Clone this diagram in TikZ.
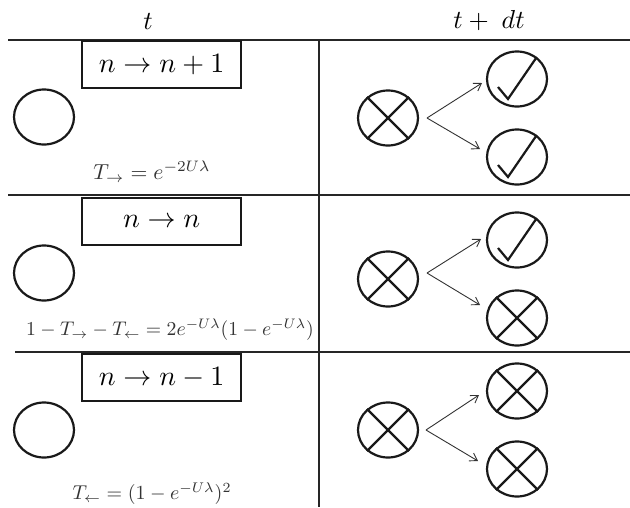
\documentclass[tikz,border=0pt]{standalone}
\usepackage{amsmath}
\usetikzlibrary{shapes.geometric,arrows.meta,calc}
\begin{document}
\begin{tikzpicture}[x=1pt,y=-1pt,
  rule/.style={draw=black!85,line width=2pt},
  labbox/.style={draw=black!90,line width=2.2pt,minimum width=159pt,minimum height=47pt,inner sep=0pt,anchor=north west},
  boxtext/.style={scale=2.8},
  headtext/.style={scale=2.6},
  formula/.style={text=black!80},
  stnode/.style={ellipse,draw=black!90,line width=2.2pt,minimum width=60pt,minimum height=55pt,inner sep=0pt},
  sign/.style={draw=black!90,line width=2.2pt},
  fork/.style={draw=black!80,line width=0.9pt,-{Straight Barb[length=7pt,width=9pt]}}]
\useasboundingbox (0,0) rectangle (630,507);
\fill[white] (0,0) rectangle (630,507);
% header
\node[headtext] (ht) at (148,21) {$t$};
\node[headtext] (htdt) at (489,21) {$t+\;dt$};
% rules
\coordinate (l1a) at (8,40); \coordinate (l1b) at (630,40);
\coordinate (l2a) at (8,195); \coordinate (l2b) at (630,195);
\coordinate (l3a) at (15,352); \coordinate (l3b) at (630,352);
\coordinate (va) at (319,40); \coordinate (vb) at (319,507);
\draw[rule] (l1a) -- (l1b);
\draw[rule] (l2a) -- (l2b);
\draw[rule] (l3a) -- (l3b);
\draw[rule] (va) -- (vb);
% boxes
\node[labbox] (b1) at (81,40) {};
\node[boxtext] (b1t) at (b1.center) {$n\to n+1$};
\node[labbox] (b2) at (81,197) {};
\node[boxtext] (b2t) at (b2.center) {$n\to n$};
\node[labbox] (b3) at (81,353) {};
\node[boxtext] (b3t) at (b3.center) {$n\to n-1$};
% left states
\node[stnode] (s1) at (44,117) {};
\node[stnode] (s2) at (44,273) {};
\node[stnode] (s3) at (44,430) {};
% formulas
\node[formula,scale=2.17] (f1) at (152,172) {$T_{\rightarrow}=e^{-2U\lambda}$};
\node[formula,scale=1.97] (f2) at (170,330) {$1-T_{\rightarrow}-T_{\leftarrow}=2e^{-U\lambda}(1-e^{-U\lambda})$};
\node[formula,scale=2.0] (f3) at (152,494) {$T_{\leftarrow}=(1-e^{-U\lambda})^2$};
% right states
\node[stnode] (c1) at (388,118) {};
\node[stnode] (u1) at (517,79) {};
\node[stnode] (d1) at (517,157) {};
\node[stnode] (c2) at (388,279) {};
\node[stnode] (u2) at (517,240) {};
\node[stnode] (d2) at (517,318) {};
\node[stnode] (c3) at (388,430) {};
\node[stnode] (u3) at (517,391) {};
\node[stnode] (d3) at (517,469) {};
% crosses
\foreach \n in {c1,c2,d2,c3,u3,d3}{
  \draw[sign] (\n.45) -- (\n.225);
  \draw[sign] (\n.135) -- (\n.315);
}
% checks
\foreach \n in {u1,d1,u2}{
  \draw[sign,line join=miter] ($(\n.center)+(-19,8)$) -- ($(\n.center)+(-9,20)$) -- (\n.48);
}
% forks
\coordinate (o1) at (427,118); \coordinate (p1) at (482,83); \coordinate (q1) at (480,149);
\coordinate (o2) at (427,273); \coordinate (p2) at (481,239); \coordinate (q2) at (480,305);
\coordinate (o3) at (426,430); \coordinate (p3) at (479,395); \coordinate (q3) at (478,461);
\draw[fork] (o1) -- (p1); \draw[fork] (o1) -- (q1);
\draw[fork] (o2) -- (p2); \draw[fork] (o2) -- (q2);
\draw[fork] (o3) -- (p3); \draw[fork] (o3) -- (q3);
\end{tikzpicture}
\end{document}
